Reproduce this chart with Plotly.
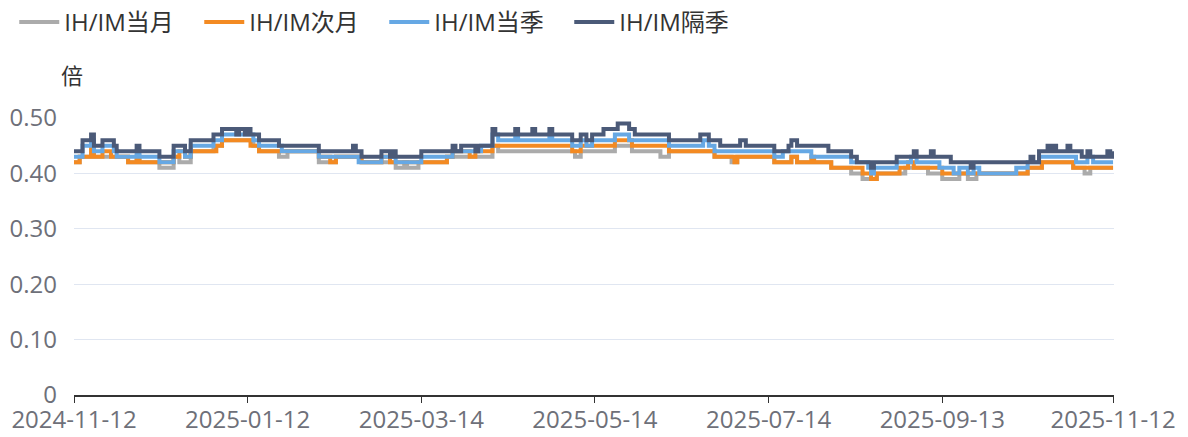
import pandas as pd
import plotly.graph_objects as go

# Dates are given as day offsets from the first date on the chart;
# each series is stored at the dates where its value changes (step line).
START_DATE = "2024-11-12"
END_DATE = "2025-11-12"

SERIES_NAMES = ["IH/IM当月", "IH/IM次月", "IH/IM当季", "IH/IM隔季"]
SERIES_COLORS = ["#ABABAB", "#F38A22", "#66A8E4", "#4B5A78"]

# IH/IM当月
dm_days = [0, 2, 6, 7, 19, 22, 23, 30, 35, 37, 41, 49, 52, 63, 65, 72, 75, 86, 92,
           101, 113, 116, 117, 121, 131, 147, 149, 176, 178, 190, 196, 206, 209,
           225, 231, 233, 246, 252, 254, 266, 273, 277, 282, 292, 300, 305, 311,
           314, 317, 335, 340, 351, 355, 357, 365]
dm_vals = [0.42, 0.43, 0.44, 0.43, 0.42, 0.43, 0.42, 0.41, 0.43, 0.42, 0.44, 0.45,
           0.46, 0.45, 0.44, 0.43, 0.44, 0.42, 0.43, 0.42, 0.41, 0.42, 0.41, 0.42,
           0.43, 0.45, 0.44, 0.43, 0.44, 0.45, 0.44, 0.43, 0.44, 0.43, 0.42, 0.43,
           0.42, 0.43, 0.42, 0.41, 0.40, 0.39, 0.40, 0.41, 0.40, 0.39, 0.40, 0.39,
           0.40, 0.41, 0.42, 0.41, 0.40, 0.41, 0.41]

# IH/IM次月
nm_days = [0, 2, 6, 7, 10, 13, 19, 22, 23, 35, 37, 39, 41, 50, 52, 62, 65, 86, 90,
           92, 101, 108, 111, 131, 133, 139, 141, 147, 175, 178, 190, 196, 209,
           225, 232, 233, 246, 252, 254, 259, 260, 266, 277, 280, 282, 290, 293,
           295, 305, 335, 340, 351, 365]
nm_vals = [0.42, 0.43, 0.45, 0.43, 0.44, 0.43, 0.42, 0.43, 0.42, 0.43, 0.44, 0.43,
           0.44, 0.45, 0.46, 0.45, 0.44, 0.43, 0.42, 0.43, 0.42, 0.43, 0.42, 0.43,
           0.44, 0.43, 0.44, 0.45, 0.44, 0.45, 0.46, 0.45, 0.44, 0.43, 0.42, 0.43,
           0.42, 0.43, 0.42, 0.43, 0.42, 0.41, 0.40, 0.39, 0.40, 0.41, 0.42, 0.41,
           0.40, 0.41, 0.42, 0.41, 0.41]

# IH/IM当季
cq_days = [0, 3, 6, 7, 10, 14, 15, 22, 23, 30, 35, 39, 41, 49, 52, 63, 65, 73, 86,
           100, 108, 113, 122, 133, 143, 147, 149, 155, 156, 167, 168, 175, 178,
           180, 182, 190, 195, 209, 221, 223, 225, 246, 249, 259, 273, 279, 280,
           281, 289, 294, 296, 304, 309, 311, 314, 316, 318, 331, 335, 339, 352,
           356, 358, 365]
cq_vals = [0.43, 0.45, 0.46, 0.44, 0.45, 0.44, 0.43, 0.44, 0.43, 0.42, 0.44, 0.43,
           0.45, 0.46, 0.47, 0.46, 0.45, 0.44, 0.43, 0.42, 0.43, 0.42, 0.43, 0.44,
           0.45, 0.47, 0.46, 0.47, 0.46, 0.47, 0.46, 0.45, 0.46, 0.45, 0.46, 0.47,
           0.46, 0.45, 0.46, 0.45, 0.44, 0.43, 0.44, 0.43, 0.42, 0.41, 0.40, 0.41,
           0.42, 0.43, 0.42, 0.41, 0.40, 0.41, 0.40, 0.41, 0.40, 0.41, 0.42, 0.43,
           0.42, 0.43, 0.42, 0.42]

# IH/IM隔季
nq_days = [0, 3, 6, 7, 10, 14, 15, 22, 23, 30, 35, 39, 41, 49, 52, 57, 58, 60, 61,
           62, 65, 72, 86, 98, 99, 101, 108, 111, 112, 113, 122, 133, 134, 136,
           141, 142, 147, 148, 155, 156, 161, 162, 167, 168, 175, 178, 180, 182,
           186, 191, 195, 197, 209, 220, 223, 227, 234, 236, 246, 251, 252, 254,
           265, 273, 275, 280, 281, 289, 295, 296, 301, 302, 308, 315, 316, 336,
           337, 339, 342, 343, 344, 345, 349, 350, 354, 356, 357, 363, 364, 365]
nq_vals = [0.44, 0.46, 0.47, 0.45, 0.46, 0.45, 0.44, 0.45, 0.44, 0.43, 0.45, 0.44,
           0.46, 0.47, 0.48, 0.47, 0.48, 0.47, 0.48, 0.47, 0.46, 0.45, 0.44, 0.45,
           0.44, 0.43, 0.44, 0.43, 0.44, 0.43, 0.44, 0.45, 0.44, 0.45, 0.44, 0.45,
           0.48, 0.47, 0.48, 0.47, 0.48, 0.47, 0.48, 0.47, 0.46, 0.47, 0.46, 0.47,
           0.48, 0.49, 0.48, 0.47, 0.46, 0.47, 0.46, 0.45, 0.46, 0.45, 0.44, 0.45,
           0.46, 0.45, 0.44, 0.43, 0.42, 0.41, 0.42, 0.43, 0.44, 0.43, 0.44, 0.43,
           0.42, 0.41, 0.42, 0.43, 0.42, 0.44, 0.45, 0.44, 0.45, 0.44, 0.45, 0.44,
           0.43, 0.44, 0.43, 0.44, 0.43, 0.44]

X_TICKS = ["2024-11-12", "2025-01-12", "2025-03-14", "2025-05-14",
           "2025-07-14", "2025-09-13", "2025-11-12"]
Y_TICKS = [0, 0.1, 0.2, 0.3, 0.4, 0.5]
Y_TICK_TEXT = ["0", "0.10", "0.20", "0.30", "0.40", "0.50"]
Y_UNIT = "倍"

FONT = "Open Sans, Noto Sans CJK SC, sans-serif"
FS = 24
start = pd.Timestamp(START_DATE)

def to_dates(days):
    return start + pd.to_timedelta(days, unit="D")

fig = go.Figure()
for name, color, days, vals in [
    (SERIES_NAMES[0], SERIES_COLORS[0], dm_days, dm_vals),
    (SERIES_NAMES[1], SERIES_COLORS[1], nm_days, nm_vals),
    (SERIES_NAMES[2], SERIES_COLORS[2], cq_days, cq_vals),
    (SERIES_NAMES[3], SERIES_COLORS[3], nq_days, nq_vals),
]:
    fig.add_trace(go.Scatter(
        x=to_dates(days), y=vals, name=name, mode="lines",
        line=dict(color=color, width=4, shape="hv"),
    ))

fig.update_layout(
    width=1188, height=437,
    margin=dict(l=74, r=74, t=118, b=42, autoexpand=False),
    paper_bgcolor="white", plot_bgcolor="white",
    font=dict(family=FONT, color="#333333", size=FS),
    showlegend=True,
    legend=dict(
        orientation="h", xref="container", yref="container",
        x=0.012, y=1.0, xanchor="left", yanchor="top",
        font=dict(size=FS, color="#333333"),
        itemwidth=40, traceorder="normal",
        entrywidth=130, entrywidthmode="pixels",
    ),
    xaxis=dict(
        type="date", automargin=False,
        range=[start, pd.Timestamp(END_DATE) + pd.Timedelta(hours=8)],
        tickvals=X_TICKS, ticktext=X_TICKS,
        showgrid=False, showline=True, linecolor="#333333", linewidth=2,
        ticks="outside", ticklen=6, tickcolor="#333333", tickwidth=1,
        tickfont=dict(size=FS, color="#6E7079"),
        ticklabelstandoff=-4,
        zeroline=False,
    ),
    yaxis=dict(
        range=[0, 0.5], tickvals=Y_TICKS, ticktext=Y_TICK_TEXT, automargin=False,
        showgrid=True, gridcolor="#E0E6F1", gridwidth=1,
        showline=False, zeroline=False, ticks="",
        tickfont=dict(size=FS, color="#6E7079"),
        ticklabelstandoff=16,
    ),
    annotations=[dict(
        text=Y_UNIT, xref="paper", yref="paper", x=0, y=1,
        xanchor="center", yanchor="bottom", xshift=-2, yshift=26,
        showarrow=False, font=dict(size=FS - 2, color="#333333"),
    )],
)

fig.write_html("out.html", config={"displayModeBar": False},
               post_script="document.body.style.margin='0';")
